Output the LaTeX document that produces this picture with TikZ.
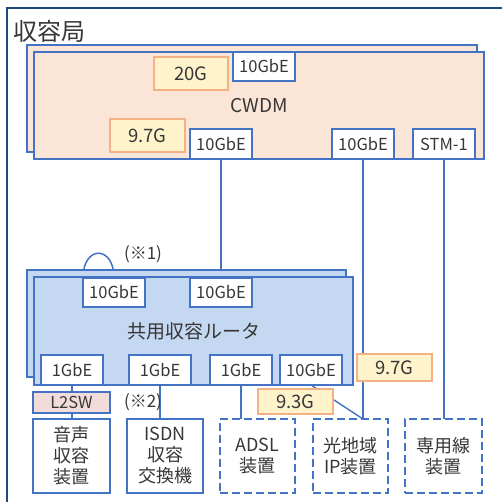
\documentclass[tikz,border=0pt]{standalone}
\usepackage{fontspec}
\setmainfont{Noto Sans CJK JP}
\usetikzlibrary{backgrounds}
\definecolor{frameblue}{RGB}{31,73,125}
\definecolor{boxblue}{RGB}{68,114,196}
\definecolor{peach}{RGB}{251,229,214}
\definecolor{routerfill}{RGB}{197,216,241}
\definecolor{labelfill}{RGB}{255,243,204}
\definecolor{labelline}{RGB}{244,177,131}
\definecolor{ltwofill}{RGB}{242,220,219}
\definecolor{txt}{RGB}{55,55,55}
\begin{document}
\begin{tikzpicture}[x=1pt,y=-1pt,
  box/.style={draw=boxblue, line width=2.2pt, anchor=north west, inner sep=0pt, outer sep=0pt, text=txt},
  port/.style={box, fill=white, font=\fontsize{16.5}{17}\selectfont},
  rate/.style={draw=labelline, line width=1.5pt, fill=labelfill, anchor=north west, inner sep=0pt, outer sep=0pt, text=txt, font=\fontsize{18.5}{19}\selectfont},
  dev/.style={box, fill=white, align=center, font=\fontsize{18}{21}\selectfont},
  devdash/.style={dev, dash pattern=on 8pt off 4pt},
  link/.style={draw=boxblue, line width=2pt},
  note/.style={text=txt, inner sep=0pt, font=\fontsize{17}{18}\selectfont}]
\useasboundingbox (0,0) rectangle (502,502);
% outer frame
\draw[frameblue, line width=2.5pt] (7,502) -- (7,8) -- (502,8);
\node[text=txt, inner sep=0pt, font=\fontsize{24}{24}\selectfont] (kyoku) at (49,31) {収容局};
% CWDM
\node[box, fill=peach, minimum width=450pt, minimum height=107pt] (cwdmback) at (27,45) {};
\node[box, fill=peach, minimum width=450pt, minimum height=107pt, font=\fontsize{19}{19}\selectfont] (cwdm) at (34,52) {CWDM};
\node[port, minimum width=62pt, minimum height=29pt] (c1) at (233,52) {10GbE};
\node[port, minimum width=62pt, minimum height=30pt] (c2) at (190,129) {10GbE};
\node[port, minimum width=62pt, minimum height=30pt] (c3) at (332,129) {10GbE};
\node[port, minimum width=62pt, minimum height=30pt] (stm) at (413,129) {STM-1};
\node[rate, minimum width=74pt, minimum height=33pt] (r20) at (154,57) {20G};
\node[rate, minimum width=75pt, minimum height=33pt] (r97a) at (110,119) {9.7G};
% router
\node[box, fill=routerfill, minimum width=319pt, minimum height=107pt] (rtback) at (27,270) {};
\node[box, fill=routerfill, minimum width=319pt, minimum height=108pt, font=\fontsize{19}{19}\selectfont] (router) at (34,277) {共用収容ルータ};
\node[port, minimum width=62pt, minimum height=29pt] (rp1) at (83,278) {10GbE};
\node[port, minimum width=62pt, minimum height=29pt] (rp2) at (190,278) {10GbE};
\node[port, minimum width=62pt, minimum height=30pt] (rp3) at (41,355) {1GbE};
\node[port, minimum width=62pt, minimum height=30pt] (rp4) at (129,355) {1GbE};
\node[port, minimum width=62pt, minimum height=30pt] (rp5) at (210,355) {1GbE};
\node[port, minimum width=62pt, minimum height=30pt] (rp6) at (280,355) {10GbE};
\node[note] (n1) at (143,254) {(※1)};
\node[note] (n2) at (143,402) {(※2)};
% lower devices
\node[box, fill=ltwofill, minimum width=77pt, minimum height=21pt, font=\fontsize{16.5}{17}\selectfont] (l2sw) at (33,392) {L2SW};
\node[dev, minimum width=77pt, minimum height=74pt] (d1) at (33,419) {音声\\収容\\装置};
\node[dev, minimum width=76pt, minimum height=74pt] (d2) at (127,419) {ISDN\\収容\\交換機};
\node[devdash, minimum width=75pt, minimum height=74pt] (d3) at (220,419) {ADSL\\装置};
\node[devdash, minimum width=75pt, minimum height=74pt] (d4) at (313,419) {光地域\\IP装置};
\node[devdash, minimum width=77pt, minimum height=74pt] (d5) at (405,419) {専用線\\装置};
\node[rate, minimum width=75pt, minimum height=27pt] (r97b) at (357,354) {9.7G};
\node[rate, minimum width=75pt, minimum height=25pt] (r93) at (258,389) {9.3G};
% connectors
\begin{scope}[on background layer]
\fill[white] (0,0) rectangle (502,502);
\draw[link] (c2.south) -- (c2.south |- rp2.north);
\draw[link] (c3.south) -- (c3.south |- d4.north);
\draw[link] (stm.south) -- (stm.south |- d5.north);
\draw[link] (rp3.south) -- (rp3.south |- l2sw.north);
\draw[link] (l2sw.south) -- (l2sw.south |- d1.north);
\draw[link] (rp4.south) -- (rp4.south |- d2.north);
\draw[link] (rp5.south) -- (rp5.south |- d3.north);
\draw[draw=boxblue, line width=1.4pt] (rp6.south) -- (c3.south |- d4.north);
\draw[draw=boxblue, line width=1.5pt] (rp1.north west) .. controls +(0,-33) and +(0,-33) .. (rp1.north);
\end{scope}
\end{tikzpicture}
\end{document}
